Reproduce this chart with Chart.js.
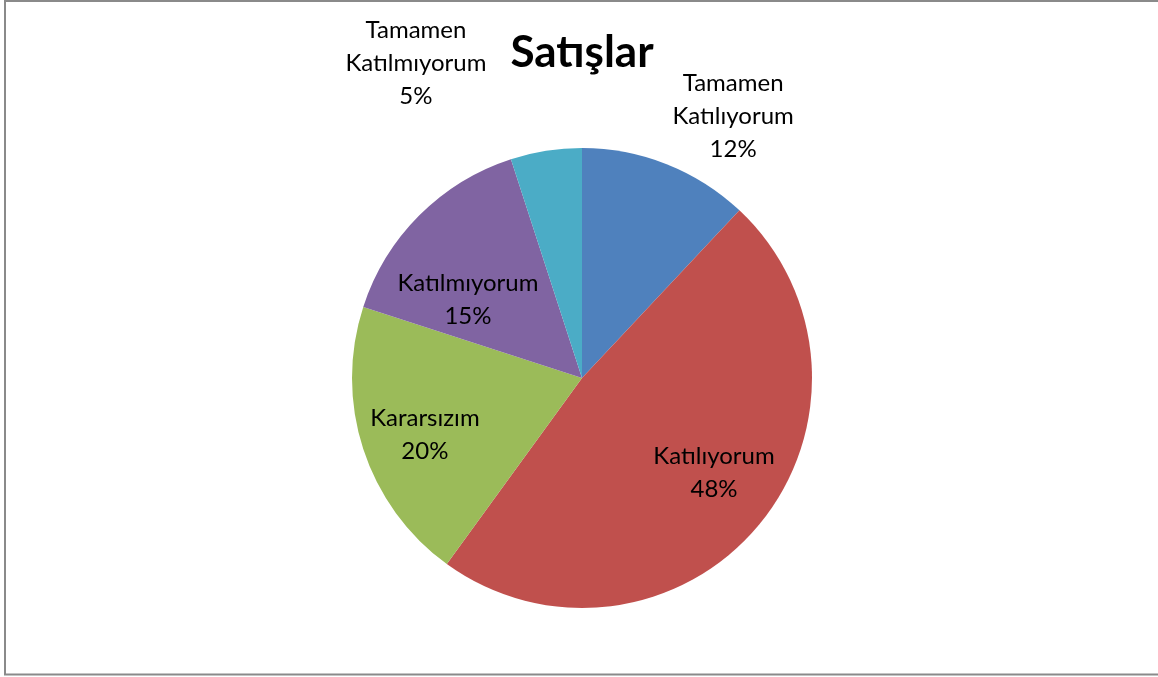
<!DOCTYPE html>
<html lang="tr">

<head>
    <meta charset="UTF-8">
    <title>Satışlar</title>
    <script src="https://cdn.jsdelivr.net/npm/chart.js"></script>
    <style>
        html, body { margin: 0; background: #fff; overflow: hidden; }
        canvas { display: block; }
    </style>
</head>

<body>
    <canvas id="pieChart" width="1158" height="677"></canvas>

    <script>
        // chart data
        const title = 'Satışlar';
        const categories = ['Tamamen Katılıyorum', 'Katılıyorum', 'Kararsızım', 'Katılmıyorum', 'Tamamen Katılmıyorum'];
        const values = [12, 48, 20, 15, 5];
        const colors = ['#4F81BD', '#C0504D', '#9BBB59', '#8064A2', '#4BACC6'];

        // where each label sits, as a fraction of the radius from the pie centre
        const labelSpots = [[0.657, -1.139], [0.574, 0.413], [-0.683, 0.246], [-0.496, -0.341], [-0.722, -1.37]];

        const FONT = 'Lato, "Open Sans", sans-serif';

        // grey frame round the chart (its right side runs off the picture)
        const framePlugin = {
            id: 'frame',
            beforeDraw(chart) {
                const ctx = chart.ctx;
                ctx.save();
                ctx.strokeStyle = '#8a8a8a';
                ctx.lineWidth = 2;
                ctx.beginPath();
                ctx.moveTo(chart.width + 5, 1);
                ctx.lineTo(5, 1);
                ctx.lineTo(5, 674.5);
                ctx.lineTo(chart.width + 5, 674.5);
                ctx.stroke();
                ctx.restore();
            }
        };

        const labelPlugin = {
            id: 'pieLabels',
            afterDatasetsDraw(chart) {
                const ctx = chart.ctx;
                const meta = chart.getDatasetMeta(0);
                const total = values.reduce((a, b) => a + b, 0);
                ctx.save();
                ctx.fillStyle = '#000';
                ctx.textAlign = 'center';
                ctx.textBaseline = 'middle';

                // title above the pie
                const c = meta.data[0];
                ctx.font = 'bold 44px ' + FONT;
                ctx.fillText(title, c.x, 53);

                ctx.font = '24px ' + FONT;
                meta.data.forEach((arc, i) => {
                    const r = arc.outerRadius;
                    const x = arc.x + labelSpots[i][0] * r;
                    const y = arc.y + labelSpots[i][1] * r;
                    const pct = Math.round(values[i] / total * 100) + '%';
                    const words = categories[i].split(' ');
                    const lines = words.length > 1 ? [words[0], words.slice(1).join(' '), pct] : [words[0], pct];
                    const lh = 33;
                    const y0 = y - (lines.length - 1) * lh / 2;
                    lines.forEach((t, k) => ctx.fillText(t, x, y0 + k * lh));
                });
                ctx.restore();
            }
        };

        new Chart(document.getElementById('pieChart'), {
            type: 'pie',
            data: {
                labels: categories,
                datasets: [{
                    data: values,
                    backgroundColor: colors,
                    borderWidth: 0
                }]
            },
            options: {
                responsive: false,
                animation: false,
                layout: { padding: { top: 148, bottom: 69, left: 6, right: 0 } },
                plugins: {
                    legend: { display: false },
                    tooltip: { enabled: false }
                }
            },
            plugins: [framePlugin, labelPlugin]
        });
    </script>
</body>

</html>
